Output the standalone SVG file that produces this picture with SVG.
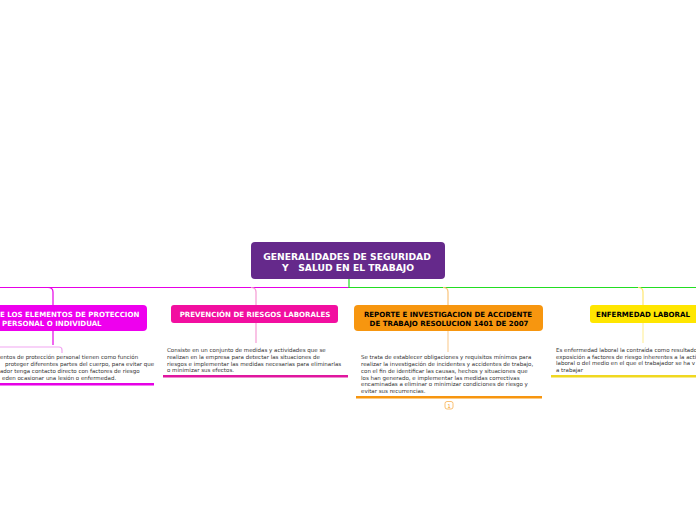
<svg xmlns="http://www.w3.org/2000/svg" width="696" height="520" viewBox="0 0 696 520">
<style>
.h{font-family:"DejaVu Sans",Verdana,sans-serif;font-weight:bold;font-size:7.05px;text-anchor:middle}
.b{font-family:"DejaVu Sans",Verdana,sans-serif;font-size:5.5px;fill:#333333}
.c{fill:none;stroke-width:1.2}
</style>
<rect width="696" height="520" fill="#ffffff"/>
<g id="connectors">
  <path class="c" d="M0 287.5 L349 287.5" stroke="#e600e6" stroke-width="1.4"/>
  <path class="c" d="M349 279 L349 287.5 L696 287.5" stroke="#22dd22" stroke-width="1.6"/>
  <path class="c" d="M48 287.5 Q53 287.5 53 292 L53 305" stroke="#e600e6"/>
  <path class="c" d="M53 331 L53 345" stroke="#e600e6"/>
  <path class="c" d="M0 347 L59 347 Q62 347 62 350 L62 353" stroke="#f2a6f2"/>
  <path class="c" d="M251 287.5 Q256 287.5 256 292 L256 305" stroke="#f59ad4"/>
  <path class="c" d="M256 323 L256 343" stroke="#f59ad4"/>
  <path class="c" d="M443 287.5 Q448 287.5 448 292 L448 305" stroke="#fbc47a"/>
  <path class="c" d="M448 331 L448 352" stroke="#fbd19a"/>
  <path class="c" d="M638 287.5 Q643 287.5 643 292 L643 305" stroke="#ffe66e"/>
  <path class="c" d="M643 323 L643 343" stroke="#fff0a0"/>
</g>
<g id="root">
  <rect x="251" y="242" width="194" height="37" rx="4" fill="#65298b"/>
  <text class="h" x="347" y="260" fill="#ffffff" style="font-size:9.2px">GENERALIDADES DE SEGURIDAD</text>
  <text class="h" x="348" y="271" fill="#ffffff" style="font-size:9.2px" xml:space="preserve">Y   SALUD EN EL TRABAJO</text>
</g>
<g id="n1">
  <rect x="-41" y="305" width="188" height="26" rx="4" fill="#ee00ee"/>
  <text class="h" x="0" y="317" fill="#ffffff" style="text-anchor:start">E LOS ELEMENTOS DE PROTECCION</text>
  <text class="h" x="2" y="326" fill="#ffffff" style="text-anchor:start">PERSONAL O INDIVIDUAL</text>
  <text class="b" x="0" y="359">entos de protección personal tienen como función</text>
  <text class="b" x="5" y="366">proteger diferentes partes del cuerpo, para evitar que</text>
  <text class="b" x="0" y="373">ador tenga contacto directo con factores de riesgo</text>
  <text class="b" x="2" y="380">eden ocasionar una lesión o enfermedad.</text>
  <rect x="0" y="383" width="154" height="2.5" fill="#e600e6"/>
</g>
<g id="n2">
  <rect x="171" y="305" width="167" height="18" rx="3" fill="#f20fa0"/>
  <text class="h" x="255" y="317" fill="#ffffff">PREVENCIÓN DE RIESGOS LABORALES</text>
  <text class="b" x="167" y="352">Consiste en un conjunto de medidas y actividades que se</text>
  <text class="b" x="167" y="359">realizan en la empresa para detectar las situaciones de</text>
  <text class="b" x="167" y="366">riesgos e implementar las medidas necesarias para eliminarlas</text>
  <text class="b" x="167" y="372">o minimizar sus efectos.</text>
  <rect x="163" y="375" width="185" height="2.5" fill="#e0169f"/>
</g>
<g id="n3">
  <rect x="354" y="305" width="189" height="26" rx="4" fill="#f7960f"/>
  <text class="h" x="448" y="317" fill="#000000">REPORTE E INVESTIGACION DE ACCIDENTE</text>
  <text class="h" x="449" y="326" fill="#000000">DE TRABAJO RESOLUCION 1401 DE 2007</text>
  <text class="b" x="361" y="359">Se trata de establecer obligaciones y requisitos mínimos para</text>
  <text class="b" x="361" y="366">realizar la investigación de incidentes y accidentes de trabajo,</text>
  <text class="b" x="361" y="373">con el fin de identificar las causas, hechos y situaciones que</text>
  <text class="b" x="361" y="380">los han generado, e implementar las medidas correctivas</text>
  <text class="b" x="361" y="386">encaminadas a eliminar o minimizar condiciones de riesgo y</text>
  <text class="b" x="361" y="393">evitar sus recurrencias.</text>
  <rect x="356" y="396" width="186" height="2.5" fill="#f7960f"/>
  <rect x="445" y="401.5" width="8" height="7.5" rx="2" fill="#ffffff" stroke="#f7b050" stroke-width="0.8"/>
  <text x="449" y="407.5" style="font-family:'DejaVu Sans',sans-serif;font-size:5px;text-anchor:middle" fill="#f7960f">1</text>
</g>
<g id="n4">
  <rect x="590" y="305" width="110" height="18" rx="3" fill="#ffe600"/>
  <text class="h" x="643" y="317" fill="#000000">ENFERMEDAD LABORAL</text>
  <text class="b" x="556" y="352">Es enfermedad laboral la contraída como resultado</text>
  <text class="b" x="556" y="359">exposición a factores de riesgo inherentes a la acti</text>
  <text class="b" x="556" y="365">laboral o del medio en el que el trabajador se ha v</text>
  <text class="b" x="556" y="372">a trabajar</text>
  <rect x="551" y="375" width="145" height="2.5" fill="#f0d820"/>
</g>
</svg>
